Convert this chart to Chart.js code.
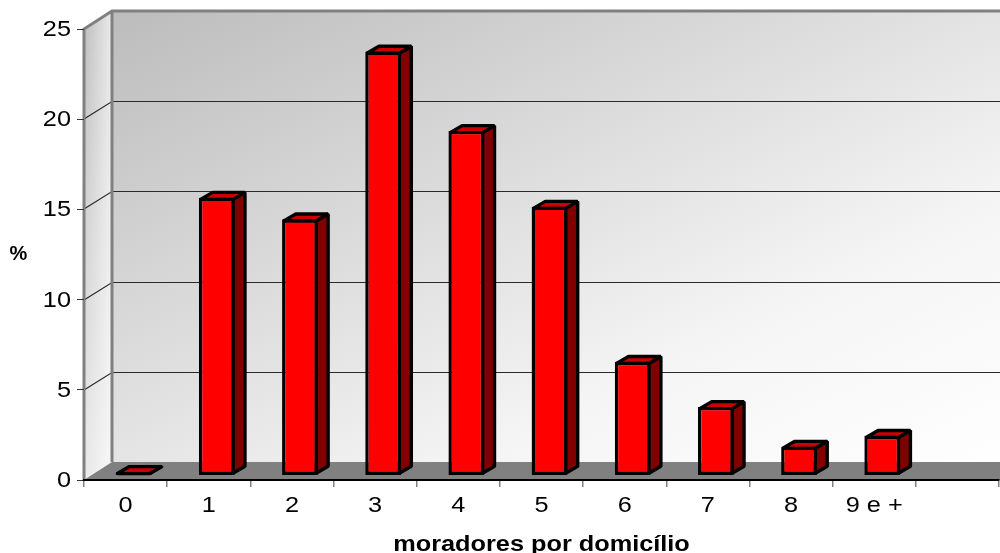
<!DOCTYPE html>
<html>
<head>
<meta charset="utf-8">
<style>
html,body{margin:0;padding:0;background:#fff;}
#wrap{width:1000px;height:553px;position:relative;}
</style>
<script src="https://cdn.jsdelivr.net/npm/chart.js@4/dist/chart.umd.min.js"></script>
</head>
<body>
<div id="wrap"><canvas id="c" width="1000" height="553"></canvas></div>
<script>
const categories = ['0','1','2','3','4','5','6','7','8','9 e +',''];
const percentages = [0.2,15.4,14.2,23.5,19.1,14.9,6.3,3.8,1.6,2.2,null];
const yTickStep = 5;
const yMax = 25;
const xAxisTitle = 'moradores por domicílio';
const yAxisTitle = '%';

// Perspective offsets for the 3D look
const WALL_DX = 28, WALL_DY = -18;
const BAR_DX = 8, BAR_DY = -4.5;
const SIDE_DX = 12, SIDE_DY = -7;
const STROKE = 3.4;
// The chart's lettering is set wide
const TEXT_STRETCH = 1.15;

const box3d = {
  id: 'box3d',
  beforeInit(chart) {
    const ctx = chart.ctx;
    const plainFillText = ctx.fillText;
    ctx.fillText = function (text, x, y, maxWidth) {
      this.save();
      this.translate(x, y + 1);
      this.scale(TEXT_STRETCH, 1);
      if (maxWidth === undefined) plainFillText.call(this, text, 0, 0);
      else plainFillText.call(this, text, 0, 0, maxWidth);
      this.restore();
    };
  },
  beforeDraw(chart) {
    const {ctx, scales:{x, y}} = chart;
    const l = x.left, r = x.right + 1, b = y.bottom, t = y.top;
    const w = r - l, h = b - t;
    ctx.save();
    // back wall, shaded corner to corner
    const k = 2 * w * h / (w * w + h * h);
    const back = ctx.createLinearGradient(l + WALL_DX, t + WALL_DY, l + WALL_DX + h * k, t + WALL_DY + w * k);
    back.addColorStop(0, '#bcbcbc');
    back.addColorStop(0.7, '#f5f5f5');
    back.addColorStop(1, '#ffffff');
    ctx.fillStyle = back;
    ctx.fillRect(l + WALL_DX, t + WALL_DY, w, h);
    // side wall
    const side = ctx.createLinearGradient(l, 0, l + WALL_DX, 0);
    side.addColorStop(0, '#c0c0c0');
    side.addColorStop(1, '#eaeaea');
    ctx.fillStyle = side;
    ctx.beginPath();
    ctx.moveTo(l, t); ctx.lineTo(l + WALL_DX, t + WALL_DY);
    ctx.lineTo(l + WALL_DX, b + WALL_DY); ctx.lineTo(l, b);
    ctx.closePath(); ctx.fill();
    const sideFade = ctx.createLinearGradient(0, t, 0, b);
    sideFade.addColorStop(0, 'rgba(255,255,255,0)');
    sideFade.addColorStop(1, 'rgba(255,255,255,0.65)');
    ctx.fillStyle = sideFade;
    ctx.fill();
    // floor
    ctx.fillStyle = '#808080';
    ctx.beginPath();
    ctx.moveTo(l, b); ctx.lineTo(l + WALL_DX, b + WALL_DY);
    ctx.lineTo(r, b + WALL_DY); ctx.lineTo(r, b);
    ctx.closePath(); ctx.fill();
    // grid lines running along both walls
    ctx.strokeStyle = '#2a2a2a';
    ctx.lineWidth = 1.2;
    for (let v = yTickStep; v < yMax; v += yTickStep) {
      const py = Math.round(y.getPixelForValue(v));
      ctx.beginPath();
      ctx.moveTo(l, py);
      ctx.lineTo(l + WALL_DX, py + WALL_DY + 0.5);
      ctx.lineTo(r, py + WALL_DY + 0.5);
      ctx.stroke();
    }
    // wall edges
    ctx.strokeStyle = '#808080';
    ctx.lineWidth = 3;
    ctx.beginPath();
    ctx.moveTo(l, b); ctx.lineTo(l, t);
    ctx.lineTo(l + WALL_DX, t + WALL_DY);
    ctx.lineTo(r, t + WALL_DY);
    ctx.moveTo(l + WALL_DX, t + WALL_DY);
    ctx.lineTo(l + WALL_DX, b + WALL_DY);
    ctx.stroke();
    ctx.restore();
  },
  beforeDatasetsDraw(chart) {
    const {ctx} = chart;
    const bars = chart.getDatasetMeta(0).data;
    ctx.save();
    ctx.translate(BAR_DX, BAR_DY);
    ctx.lineWidth = STROKE;
    ctx.lineJoin = 'bevel';
    ctx.strokeStyle = '#000';
    bars.forEach((el, i) => {
      if (percentages[i] === null) return;
      const {x, y, base, width} = el.getProps(['x','y','base','width'], true);
      const L = x - width / 2, R = x + width / 2;
      const inset = STROKE / 2;
      const inL = L + inset, inR = R - inset, inT = y + inset, inB = base - inset;
      // side face
      ctx.fillStyle = '#800000';
      ctx.beginPath();
      ctx.moveTo(inR, inT); ctx.lineTo(inR + SIDE_DX, inT + SIDE_DY);
      ctx.lineTo(inR + SIDE_DX, inB + SIDE_DY); ctx.lineTo(inR, inB);
      ctx.closePath(); ctx.fill(); ctx.stroke();
      // top face
      ctx.fillStyle = '#cc0000';
      ctx.beginPath();
      ctx.moveTo(inL, inT); ctx.lineTo(inL + SIDE_DX, inT + SIDE_DY);
      ctx.lineTo(inR + SIDE_DX, inT + SIDE_DY); ctx.lineTo(inR, inT);
      ctx.closePath(); ctx.fill(); ctx.stroke();
    });
    ctx.restore();
    // front faces are drawn by the bar elements, pushed to the same depth
    ctx.save();
    ctx.translate(BAR_DX, BAR_DY);
  },
  afterDatasetsDraw(chart) {
    chart.ctx.restore();
  },
  afterDraw(chart) {
    const {ctx} = chart;
    ctx.save();
    ctx.fillStyle = '#000';
    ctx.font = 'bold 20px "Liberation Sans"';
    ctx.textAlign = 'center';
    ctx.textBaseline = 'middle';
    // the percent sign stays at its natural width
    ctx.scale(1 / TEXT_STRETCH, 1);
    ctx.fillText(yAxisTitle, 18.5 * TEXT_STRETCH, 253);
    ctx.restore();
  }
};

new Chart(document.getElementById('c'), {
  type: 'bar',
  data: {
    labels: categories,
    datasets: [{
      data: percentages,
      backgroundColor: '#ff0000',
      borderColor: '#000000',
      borderWidth: STROKE,
      borderSkipped: false,
      categoryPercentage: 1,
      barPercentage: 0.43
    }]
  },
  options: {
    responsive: false,
    animation: false,
    layout: {padding: {top: 29, right: 1, left: 0, bottom: 0}, autoPadding: false},
    plugins: {legend: {display: false}, tooltip: {enabled: false}},
    scales: {
      x: {
        type: 'category',
        offset: true,
        afterFit(s) { s.height = 73; },
        grid: {drawOnChartArea: false, drawTicks: true, tickLength: 7, color: '#808080', lineWidth: 1.5, offset: true},
        border: {display: true, color: '#000', width: 2},
        ticks: {color: '#000', font: {family: '"Liberation Sans"', size: 22}, padding: 5, maxRotation: 0, autoSkip: false},
        title: {display: true, text: xAxisTitle, color: '#000', font: {family: '"Liberation Sans"', size: 22, weight: 'bold'}, padding: {top: 15, bottom: -4}}
      },
      y: {
        min: 0,
        max: yMax,
        afterFit(s) { s.width = 84; },
        grid: {drawOnChartArea: false, drawTicks: true, tickLength: 7, color: '#333', lineWidth: 1},
        border: {display: false},
        ticks: {stepSize: yTickStep, color: '#000', font: {family: '"Liberation Sans"', size: 22}, padding: 6}
      }
    }
  },
  plugins: [box3d]
});
</script>
</body>
</html>
